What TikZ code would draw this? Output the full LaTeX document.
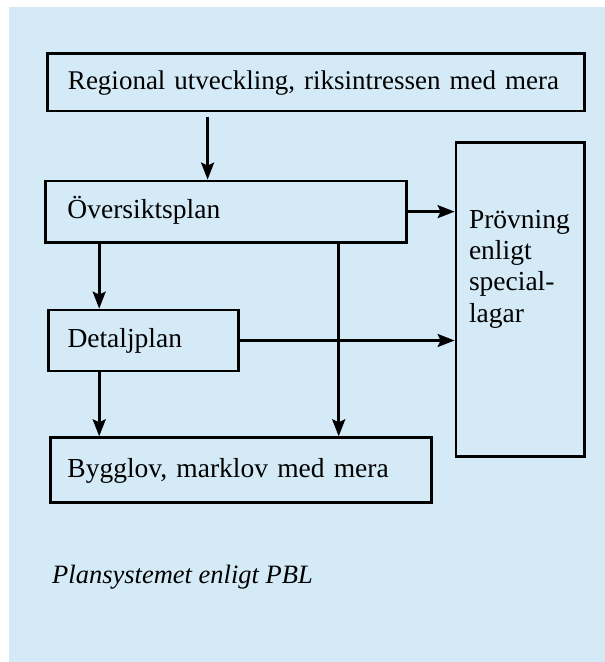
\documentclass[tikz,border=0pt]{standalone}
\usepackage{fontspec}
\setmainfont{Liberation Serif}
\usetikzlibrary{arrows.meta}
\definecolor{panel}{RGB}{212,235,247}
\begin{document}
\begin{tikzpicture}[x=1bp,y=-1bp,
  txt/.style={font=\fontsize{27.5bp}{31.3bp}\selectfont},
  box/.style={draw=black, line width=2.8bp, fill=panel, inner ysep=0pt,
    text height=14bp, text depth=0pt, align=left, txt},
  arr/.style={line width=2.6bp, -{Stealth[length=17bp,width=13bp,inset=3bp]}},
  lbl/.style={inner sep=0pt, anchor=base west, align=left, txt}]
\useasboundingbox (0,0) rectangle (605,662);
\fill[panel] (9,7) rectangle (605,662);

\node[box, inner xsep=20.5bp, text width=496bp, minimum height=57.7bp,
  font=\fontsize{27bp}{31bp}\selectfont] (top) at (316,82.2)
  {\mbox{Regional utveckling, riksintressen med mera}};
\node[box, inner xsep=22bp, text width=316.8bp, minimum height=61.3bp] (ov) at (225.9,211.65)
  {Översiktsplan};
\node[box, inner xsep=19.3bp, text width=151.6bp, minimum height=61bp] (dp) at (143.3,340.5)
  {Detaljplan};
\node[box, inner xsep=16.6bp, text width=347.2bp, minimum height=65bp] (bg) at (241.1,470.2)
  {Bygglov, marklov med mera};
\node[box, inner sep=0pt, minimum width=128.5bp, minimum height=314bp] (pr) at (520.25,299.7) {};
\node[lbl] (prt) at (468.8,322) {Prövning\\enligt\\special-\\lagar};

\node[lbl, font=\fontsize{26.5bp}{31bp}\selectfont\itshape] (cap) at (52,583) {Plansystemet enligt PBL};

\coordinate (xa) at (207.6,0);
\coordinate (xb) at (99.2,0);
\coordinate (xc) at (338.7,0);
\draw[arr, shorten <=5bp] (top.south -| xa) -- (ov.north -| xa);
\draw[arr] (ov.east) -- (ov.east -| pr.west);
\draw[arr] (ov.south -| xb) -- (dp.north -| xb);
\draw[arr] (dp.east) -- (dp.east -| pr.west);
\draw[arr] (ov.south -| xc) -- (bg.north -| xc);
\draw[arr] (dp.south -| xb) -- (bg.north -| xb);
\end{tikzpicture}
\end{document}
